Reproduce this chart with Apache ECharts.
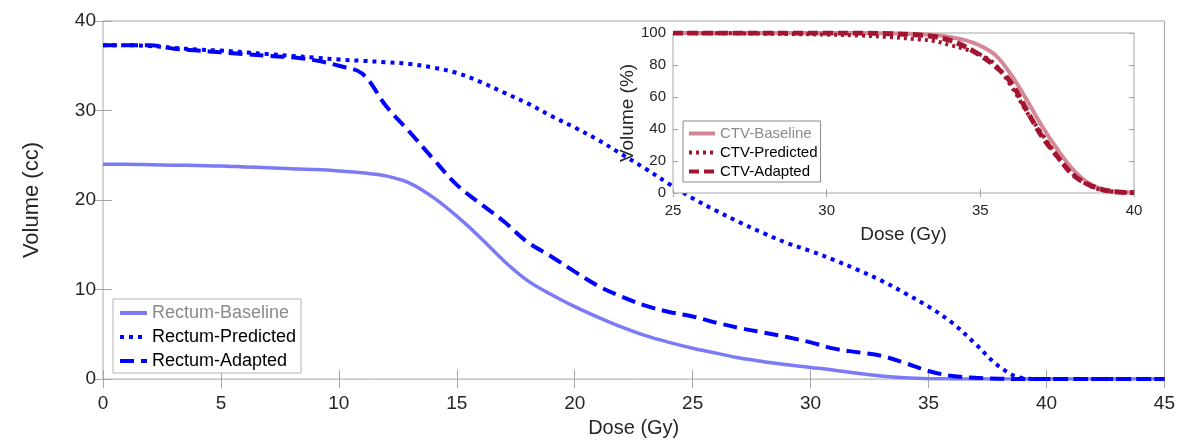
<!DOCTYPE html>
<html>
<head>
<meta charset="utf-8">
<script src="https://cdn.jsdelivr.net/npm/echarts@6/dist/echarts.min.js"></script>
<style>
html,body{margin:0;padding:0;background:#fff;}
#chart{width:1178px;height:443px;}
</style>
</head>
<body>
<div id="chart"></div>
<script>
// ---- Main plot data (Rectum DVH) ----
const rectumDose = [0,1,2,3,4,5,6,7,8,9,10,11,12,13,14,15,16,17,18,19,20,21,22,23,24,25,26,27,28,29,30,31,32,33,34,35,36,37,38,39,40,41,42,43,44,45];
const rectumBaseline = [24.0,24.0,23.95,23.9,23.85,23.8,23.7,23.6,23.5,23.4,23.25,23.05,22.7,21.9,20.3,18.2,15.8,13.2,11.0,9.45,8.1,6.9,5.8,4.85,4.1,3.45,2.9,2.35,1.95,1.6,1.3,1.0,0.65,0.35,0.15,0.05,0.02,0,0,0,0,0,0,0,0,0];
const rectumPredicted = [37.3,37.3,37.2,37.0,36.8,36.7,36.5,36.3,36.1,35.9,35.7,35.55,35.4,35.2,34.8,34.2,33.2,32.0,30.8,29.4,28.1,26.7,25.1,23.5,21.8,20.2,18.8,17.5,16.3,15.2,14.3,13.3,12.2,11.0,9.6,8.1,6.3,3.9,1.4,0.1,0,0,0,0,0,0];
const rectumAdapted = [37.3,37.3,37.3,36.9,36.7,36.5,36.3,36.1,35.95,35.6,35.0,34.1,30.5,27.6,24.6,21.7,19.6,17.6,15.3,13.7,12.0,10.4,9.2,8.2,7.5,7.0,6.3,5.7,5.2,4.7,4.1,3.4,3.0,2.6,1.8,0.9,0.35,0.15,0.05,0,0,0,0,0,0,0];
const mainXTicks = {min:0, max:45, interval:5};
const mainYTicks = {min:0, max:40, interval:10};

// ---- Inset data (CTV DVH) ----
const ctvDose = [25,26,27,28,29,30,31,32,33,33.5,34,34.5,35,35.5,36,36.5,37,37.5,38,38.5,39,39.5,40];
const ctvBaseline = [100,100,100,100,100,100,100,99.8,99.3,98.8,97.5,95.5,92,86,74,58.5,42,27.5,15,6.5,2.3,0.8,0.2];
const ctvPredicted = [100,99.9,99.8,99.6,99.3,99,98.5,97.5,96,95,92.5,90,86.5,80,67,51,37,23,12,5,1.7,0.5,0.2];
const ctvAdapted = [100,100,100,100,100,100,100,99.6,98.8,97.8,95.5,91.5,86,79,69,52,35.5,23,11.5,5.5,2,0.6,0.2];
const insetXTicks = {min:25, max:40, interval:5};
const insetYTicks = {min:0, max:100, interval:20};

function pairs(xs, ys){ return xs.map((x,i)=>[x, ys[i]]); }

const FONT = "'Liberation Sans', Arial, sans-serif";
const TXT = '#262626';
const AX = '#a6a6a6';
const BLUE = '#0000ff';
const LBLUE = '#7b7bf5';
const RED = '#a2142f';
const PINK = '#d48896';

function xAx(grid, pos, t, showLabel, size, tickLen, name, nameGap, zl){
  return {
    type:'value', gridIndex:grid, position:pos, min:t.min, max:t.max, interval:t.interval,
    zlevel:zl,
    axisLine:{show:false},
    axisTick:{show:true, inside:true, length:tickLen, lineStyle:{color:AX, width:1}},
    splitLine:{show:false},
    axisLabel:{show:showLabel, color:TXT, fontFamily:FONT, fontSize:size, margin: grid===0?15:10},
    name: name||'', nameLocation:'middle', nameGap:nameGap||0,
    nameTextStyle:{color:TXT, fontFamily:FONT, fontSize: grid===0?20:19}
  };
}
function yAx(grid, pos, t, showLabel, size, tickLen, name, nameGap, zl){
  return {
    type:'value', gridIndex:grid, position:pos, min:t.min, max:t.max, interval:t.interval,
    zlevel:zl,
    axisLine:{show:false},
    axisTick:{show:true, inside:true, length:tickLen, lineStyle:{color:AX, width:1}},
    splitLine:{show:false},
    axisLabel:{show:showLabel, color:TXT, fontFamily:FONT, fontSize:size, margin:7},
    name: name||'', nameLocation:'middle', nameGap:nameGap||0,
    nameTextStyle:{color:TXT, fontFamily:FONT, fontSize: grid===0?22:19}
  };
}

const chart = echarts.init(document.getElementById('chart'), null, {renderer:'canvas'});
const option = {
  backgroundColor:'#fff',
  animation:false,
  grid:[
    {left:103, top:21, width:1062, height:362, show:true, borderColor:AX, borderWidth:1, backgroundColor:'#fff', zlevel:0},
    {left:673, top:33, width:461, height:160, show:true, borderColor:AX, borderWidth:1, backgroundColor:'#fff', zlevel:1}
  ],
  xAxis:[
    xAx(0,'bottom',mainXTicks,true,19,9,'Dose (Gy)',38,0),
    xAx(0,'top',mainXTicks,false,19,9,'',0,0),
    xAx(1,'bottom',insetXTicks,true,15,4,'Dose (Gy)',32,1),
    xAx(1,'top',insetXTicks,false,15,4,'',0,1)
  ],
  yAxis:[
    yAx(0,'left',mainYTicks,true,19,9,'Volume (cc)',60,0),
    yAx(0,'right',mainYTicks,false,19,9,'',0,0),
    yAx(1,'left',insetYTicks,true,15,5,'Volume (%)',34,1),
    yAx(1,'right',insetYTicks,false,15,5,'',0,1)
  ],
  legend:[
    {
      orient:'vertical', left:113, top:299, zlevel:0,
      padding:[5,5,3,5], itemGap:6, itemWidth:27, itemHeight:18,
      itemStyle:{opacity:0}, lineStyle:{width:4},
      borderColor:'#b5b5b5', borderWidth:1, backgroundColor:'#fff',
      textStyle:{fontFamily:FONT, fontSize:18, color:'#000'},
      data:[
        {name:'Rectum-Baseline', textStyle:{color:'#8a8a8a'}},
        {name:'Rectum-Predicted'},
        {name:'Rectum-Adapted'}
      ]
    },
    {
      orient:'vertical', left:683, top:121, zlevel:1,
      padding:[5,3,3,4], itemGap:4, itemWidth:26, itemHeight:16,
      itemStyle:{opacity:0}, lineStyle:{width:4},
      borderColor:'#8a8a8a', borderWidth:1, backgroundColor:'#fff',
      textStyle:{fontFamily:FONT, fontSize:15, color:'#000'},
      data:[
        {name:'CTV-Baseline', textStyle:{color:'#8a8a8a'}},
        {name:'CTV-Predicted'},
        {name:'CTV-Adapted'}
      ]
    }
  ],
  series:[
    {name:'Rectum-Baseline', type:'line', xAxisIndex:0, yAxisIndex:0, zlevel:0, data:pairs(rectumDose, rectumBaseline),
     symbol:'none', smooth:0.35, color:LBLUE, lineStyle:{color:LBLUE, width:3.5}},
    {name:'Rectum-Predicted', type:'line', xAxisIndex:0, yAxisIndex:0, zlevel:0, data:pairs(rectumDose, rectumPredicted),
     symbol:'none', smooth:0.35, color:BLUE, lineStyle:{color:BLUE, width:4, type:[4,5]}},
    {name:'Rectum-Adapted', type:'line', xAxisIndex:0, yAxisIndex:0, zlevel:0, data:pairs(rectumDose, rectumAdapted),
     symbol:'none', smooth:0.35, color:BLUE, lineStyle:{color:BLUE, width:4, type:[14,7]}},
    {name:'CTV-Baseline', type:'line', xAxisIndex:2, yAxisIndex:2, zlevel:1, data:pairs(ctvDose, ctvBaseline),
     symbol:'none', smooth:0.35, color:PINK, lineStyle:{color:PINK, width:4}},
    {name:'CTV-Predicted', type:'line', xAxisIndex:2, yAxisIndex:2, zlevel:1, data:pairs(ctvDose, ctvPredicted),
     symbol:'none', smooth:0.35, color:RED, lineStyle:{color:RED, width:4, type:[3,4]}},
    {name:'CTV-Adapted', type:'line', xAxisIndex:2, yAxisIndex:2, zlevel:1, data:pairs(ctvDose, ctvAdapted),
     symbol:'none', smooth:0.35, color:RED, lineStyle:{color:RED, width:5, type:[10,5]}}
  ]
};
chart.setOption(option);
</script>
</body>
</html>
